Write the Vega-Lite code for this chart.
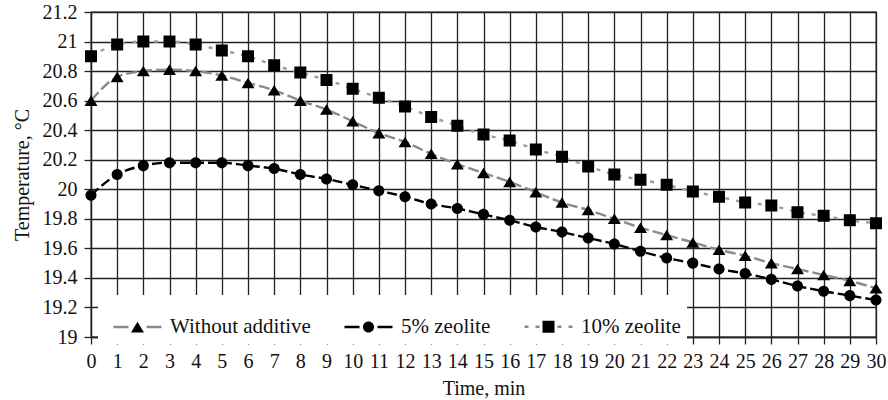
{
  "$schema": "https://vega.github.io/schema/vega-lite/v6.json",
  "width": 785,
  "height": 325,
  "autosize": {"type": "none"},
  "padding": {"left": 91, "top": 12, "right": 12, "bottom": 63},
  "config": {
    "font": "Liberation Serif",
    "view": {"stroke": "#222", "strokeWidth": 1.3},
    "axis": {
      "grid": true,
      "gridColor": "#222",
      "gridWidth": 1.3,
      "gridOpacity": 1,
      "domainColor": "#222",
      "domainWidth": 1.3,
      "tickColor": "#222",
      "tickWidth": 1.3,
      "tickSize": 7,
      "labelFont": "Liberation Serif",
      "labelFontSize": 20,
      "labelColor": "#111",
      "labelPadding": 7,
      "labelFlush": false,
      "labelOverlap": false,
      "titleFont": "Liberation Serif",
      "titleFontSize": 20,
      "titleFontWeight": "normal",
      "titleColor": "#111"
    }
  },
  "data": {
    "values": [
      {"time": 0, "series": "Without additive", "temp": 20.60},
      {"time": 1, "series": "Without additive", "temp": 20.76},
      {"time": 2, "series": "Without additive", "temp": 20.80},
      {"time": 3, "series": "Without additive", "temp": 20.81},
      {"time": 4, "series": "Without additive", "temp": 20.80},
      {"time": 5, "series": "Without additive", "temp": 20.77},
      {"time": 6, "series": "Without additive", "temp": 20.72},
      {"time": 7, "series": "Without additive", "temp": 20.67},
      {"time": 8, "series": "Without additive", "temp": 20.60},
      {"time": 9, "series": "Without additive", "temp": 20.54},
      {"time": 10, "series": "Without additive", "temp": 20.46},
      {"time": 11, "series": "Without additive", "temp": 20.38},
      {"time": 12, "series": "Without additive", "temp": 20.32},
      {"time": 13, "series": "Without additive", "temp": 20.24},
      {"time": 14, "series": "Without additive", "temp": 20.17},
      {"time": 15, "series": "Without additive", "temp": 20.11},
      {"time": 16, "series": "Without additive", "temp": 20.05},
      {"time": 17, "series": "Without additive", "temp": 19.98},
      {"time": 18, "series": "Without additive", "temp": 19.91},
      {"time": 19, "series": "Without additive", "temp": 19.86},
      {"time": 20, "series": "Without additive", "temp": 19.80},
      {"time": 21, "series": "Without additive", "temp": 19.74},
      {"time": 22, "series": "Without additive", "temp": 19.69},
      {"time": 23, "series": "Without additive", "temp": 19.64},
      {"time": 24, "series": "Without additive", "temp": 19.59},
      {"time": 25, "series": "Without additive", "temp": 19.55},
      {"time": 26, "series": "Without additive", "temp": 19.50},
      {"time": 27, "series": "Without additive", "temp": 19.46},
      {"time": 28, "series": "Without additive", "temp": 19.42},
      {"time": 29, "series": "Without additive", "temp": 19.38},
      {"time": 30, "series": "Without additive", "temp": 19.33},
      {"time": 0, "series": "5% zeolite", "temp": 19.96},
      {"time": 1, "series": "5% zeolite", "temp": 20.10},
      {"time": 2, "series": "5% zeolite", "temp": 20.16},
      {"time": 3, "series": "5% zeolite", "temp": 20.18},
      {"time": 4, "series": "5% zeolite", "temp": 20.18},
      {"time": 5, "series": "5% zeolite", "temp": 20.18},
      {"time": 6, "series": "5% zeolite", "temp": 20.16},
      {"time": 7, "series": "5% zeolite", "temp": 20.14},
      {"time": 8, "series": "5% zeolite", "temp": 20.10},
      {"time": 9, "series": "5% zeolite", "temp": 20.07},
      {"time": 10, "series": "5% zeolite", "temp": 20.03},
      {"time": 11, "series": "5% zeolite", "temp": 19.99},
      {"time": 12, "series": "5% zeolite", "temp": 19.95},
      {"time": 13, "series": "5% zeolite", "temp": 19.90},
      {"time": 14, "series": "5% zeolite", "temp": 19.87},
      {"time": 15, "series": "5% zeolite", "temp": 19.83},
      {"time": 16, "series": "5% zeolite", "temp": 19.79},
      {"time": 17, "series": "5% zeolite", "temp": 19.745},
      {"time": 18, "series": "5% zeolite", "temp": 19.71},
      {"time": 19, "series": "5% zeolite", "temp": 19.67},
      {"time": 20, "series": "5% zeolite", "temp": 19.63},
      {"time": 21, "series": "5% zeolite", "temp": 19.58},
      {"time": 22, "series": "5% zeolite", "temp": 19.535},
      {"time": 23, "series": "5% zeolite", "temp": 19.50},
      {"time": 24, "series": "5% zeolite", "temp": 19.46},
      {"time": 25, "series": "5% zeolite", "temp": 19.43},
      {"time": 26, "series": "5% zeolite", "temp": 19.39},
      {"time": 27, "series": "5% zeolite", "temp": 19.345},
      {"time": 28, "series": "5% zeolite", "temp": 19.31},
      {"time": 29, "series": "5% zeolite", "temp": 19.28},
      {"time": 30, "series": "5% zeolite", "temp": 19.25},
      {"time": 0, "series": "10% zeolite", "temp": 20.90},
      {"time": 1, "series": "10% zeolite", "temp": 20.98},
      {"time": 2, "series": "10% zeolite", "temp": 21.00},
      {"time": 3, "series": "10% zeolite", "temp": 21.00},
      {"time": 4, "series": "10% zeolite", "temp": 20.98},
      {"time": 5, "series": "10% zeolite", "temp": 20.94},
      {"time": 6, "series": "10% zeolite", "temp": 20.90},
      {"time": 7, "series": "10% zeolite", "temp": 20.84},
      {"time": 8, "series": "10% zeolite", "temp": 20.79},
      {"time": 9, "series": "10% zeolite", "temp": 20.74},
      {"time": 10, "series": "10% zeolite", "temp": 20.68},
      {"time": 11, "series": "10% zeolite", "temp": 20.62},
      {"time": 12, "series": "10% zeolite", "temp": 20.56},
      {"time": 13, "series": "10% zeolite", "temp": 20.49},
      {"time": 14, "series": "10% zeolite", "temp": 20.43},
      {"time": 15, "series": "10% zeolite", "temp": 20.37},
      {"time": 16, "series": "10% zeolite", "temp": 20.33},
      {"time": 17, "series": "10% zeolite", "temp": 20.27},
      {"time": 18, "series": "10% zeolite", "temp": 20.22},
      {"time": 19, "series": "10% zeolite", "temp": 20.155},
      {"time": 20, "series": "10% zeolite", "temp": 20.10},
      {"time": 21, "series": "10% zeolite", "temp": 20.065},
      {"time": 22, "series": "10% zeolite", "temp": 20.03},
      {"time": 23, "series": "10% zeolite", "temp": 19.985},
      {"time": 24, "series": "10% zeolite", "temp": 19.95},
      {"time": 25, "series": "10% zeolite", "temp": 19.91},
      {"time": 26, "series": "10% zeolite", "temp": 19.89},
      {"time": 27, "series": "10% zeolite", "temp": 19.845},
      {"time": 28, "series": "10% zeolite", "temp": 19.82},
      {"time": 29, "series": "10% zeolite", "temp": 19.79},
      {"time": 30, "series": "10% zeolite", "temp": 19.77}
    ]
  },
  "encoding": {
    "x": {
      "field": "time",
      "type": "quantitative",
      "scale": {"domain": [0, 30], "nice": false, "zero": false},
      "axis": {
        "title": "Time, min",
        "values": [0,1,2,3,4,5,6,7,8,9,10,11,12,13,14,15,16,17,18,19,20,21,22,23,24,25,26,27,28,29,30],
        "titlePadding": 7
      }
    },
    "y": {
      "field": "temp",
      "type": "quantitative",
      "scale": {"domain": [19, 21.2], "nice": false, "zero": false},
      "axis": {
        "title": "Temperature, °C",
        "values": [19, 19.2, 19.4, 19.6, 19.8, 20, 20.2, 20.4, 20.6, 20.8, 21, 21.2],
        "format": "~g",
        "titlePadding": 10
      }
    }
  },
  "layer": [
    {
      "mark": {"type": "line", "interpolate": "monotone", "strokeWidth": 2.4},
      "encoding": {
        "color": {
          "field": "series",
          "type": "nominal",
          "sort": null,
          "scale": {"range": ["#8a8a8a", "#000000", "#9c9c9c"]},
          "legend": null
        },
        "strokeDash": {
          "field": "series",
          "type": "nominal",
          "sort": null,
          "scale": {"range": [[11, 4], [10, 4], [4, 7]]},
          "legend": null
        }
      }
    },
    {
      "mark": {"type": "point", "filled": true, "color": "black", "opacity": 1, "size": 2304},
      "encoding": {
        "shape": {
          "field": "series",
          "type": "nominal",
          "scale": {
            "domain": ["Without additive", "5% zeolite", "10% zeolite"],
            "range": [
              "M-1,0L-0.375,0M0.375,0L1,0M-1,0L-0.135,0L0,-0.22L0.27,0.22L-0.27,0.22L-0.135,0L-1,0Z",
              "M-1,0L-0.375,0M0.375,0L1,0M-1,0L-0.23,0A0.23,0.23 0 1,1 0.23,0A0.23,0.23 0 1,1 -0.23,0L-1,0Z",
              "M-1,0L-0.375,0M0.375,0L1,0M-1,0L-0.25,0L-0.25,-0.25L0.25,-0.25L0.25,0.25L-0.25,0.25L-0.25,0L-1,0Z"
            ]
          },
          "legend": {
            "orient": "none",
            "legendX": 7,
            "legendY": 283,
            "direction": "horizontal",
            "title": null,
            "fillColor": "white",
            "padding": 6,
            "symbolSize": 2304,
            "symbolFillColor": "black",
            "symbolStrokeColor": "#8a8a8a",
            "symbolStrokeWidth": 2.5,
            "symbolOffset": 8,
            "labelFont": "Liberation Serif",
            "labelFontSize": 21,
            "labelLimit": 300,
            "labelColor": "#111",
            "labelOffset": 7,
            "columnPadding": 24,
            "zindex": 1,
            "encoding": {
              "symbols": {
                "fill": {"value": "black"},
                "strokeWidth": {"value": 2.5},
                "stroke": {
                  "condition": {"test": "datum.value === '5% zeolite'", "value": "#000000"},
                  "value": "#8a8a8a"
                },
                "strokeDash": {
                  "condition": {"test": "datum.value === '10% zeolite'", "value": [4, 7, 4, 10000]},
                  "value": [15, 10000]
                }
              }
            }
          }
        }
      }
    }
  ]
}
